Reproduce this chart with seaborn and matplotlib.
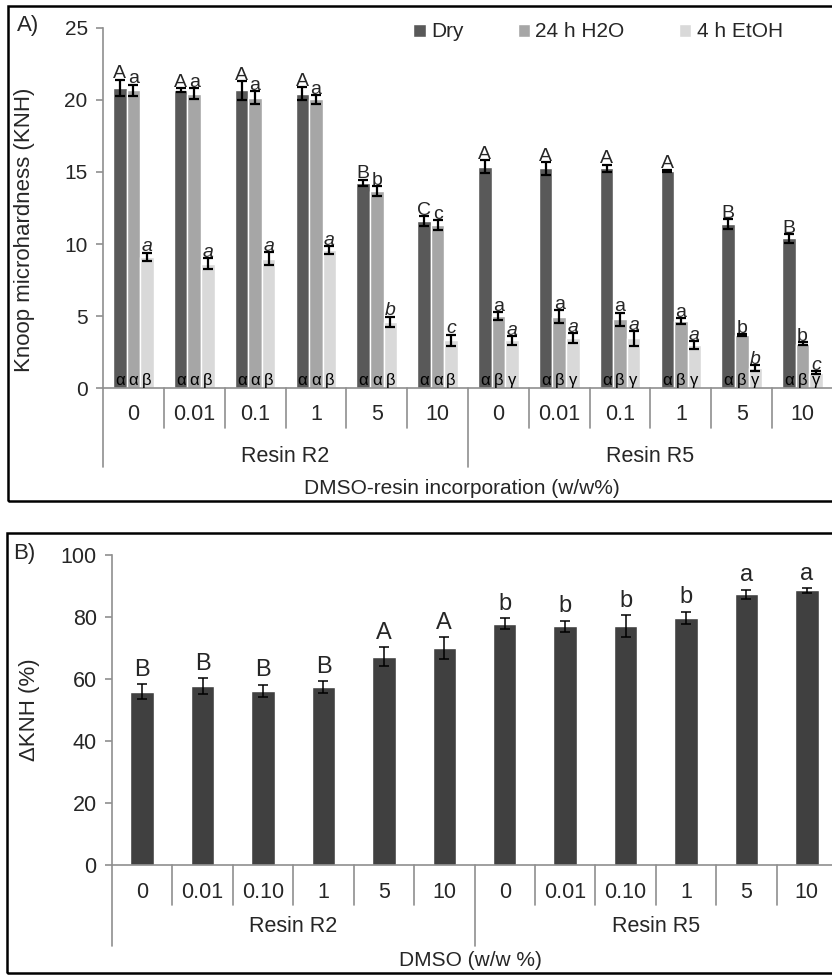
import matplotlib
matplotlib.use("Agg")
import matplotlib.pyplot as plt
from matplotlib.patches import Rectangle
import numpy as np
import pandas as pd
import seaborn as sns

# ---- data -------------------------------------------------------------
resins = ["Resin R2", "Resin R5"]
dmso_a = ["0", "0.01", "0.1", "1", "5", "10"]
dmso_b = ["0", "0.01", "0.10", "1", "5", "10"]
conditions = ["Dry", "24 h H2O", "4 h EtOH"]

dry_mean = [20.85, 20.69, 20.67, 20.44, 14.26, 11.60, 15.37, 15.25, 15.25, 15.07, 11.37, 10.39]
dry_err = [0.55, 0.15, 0.65, 0.45, 0.20, 0.35, 0.45, 0.45, 0.25, 0.10, 0.35, 0.30]
h2o_mean = [20.67, 20.44, 20.16, 20.05, 13.68, 11.30, 5.00, 4.95, 4.77, 4.65, 3.68, 3.08]
h2o_err = [0.40, 0.40, 0.45, 0.30, 0.35, 0.35, 0.25, 0.45, 0.45, 0.20, 0.05, 0.10]
etoh_mean = [9.10, 8.63, 8.98, 9.58, 4.60, 3.31, 3.31, 3.45, 3.45, 2.99, 1.39, 1.06]
etoh_err = [0.30, 0.40, 0.45, 0.25, 0.35, 0.40, 0.30, 0.35, 0.50, 0.25, 0.20, 0.10]

dry_letters = ["A", "A", "A", "A", "B", "C", "A", "A", "A", "A", "B", "B"]
h2o_letters = ["a", "a", "a", "a", "b", "c", "a", "a", "a", "a", "b", "b"]
etoh_letters = ["a", "a", "a", "a", "b", "c", "a", "a", "a", "a", "b", "c"]
greek_r2 = ["α", "α", "β"]
greek_r5 = ["α", "β", "γ"]

dknh_mean = [55.9, 57.8, 56.2, 57.4, 67.2, 70.0, 77.9, 77.0, 77.0, 79.7, 87.3, 88.6]
dknh_err = [2.5, 2.5, 2.0, 2.0, 3.0, 3.5, 1.8, 1.8, 3.5, 2.0, 1.5, 0.8]
dknh_letters = ["B", "B", "B", "B", "A", "A", "b", "b", "b", "b", "a", "a"]

# ---- styling ----------------------------------------------------------
sns.set_theme(style="white")
plt.rcParams["font.family"] = ["Liberation Sans", "DejaVu Sans"]
narrow = ["Liberation Sans Narrow", "Liberation Sans", "DejaVu Sans"]
axis_grey = "#8f8f8f"
colors_a = ["#595959", "#a6a6a6", "#d9d9d9"]
color_b = "#404040"

W, H = 832, 976
fig = plt.figure(figsize=(W / 100, H / 100), dpi=100)


def fx(px):
    return px / W


def fy(py):
    return 1 - py / H


def style_axes(ax, ylim, yticks, tick_fs):
    ax.set_ylim(*ylim)
    ax.set_yticks(yticks)
    ax.set_xlim(-0.5, 11.5)
    for s in ["top", "right"]:
        ax.spines[s].set_visible(False)
    for s in ["left", "bottom"]:
        ax.spines[s].set_color(axis_grey)
        ax.spines[s].set_linewidth(1.2)
    ax.tick_params(axis="y", direction="out", length=5, width=1.2, color=axis_grey,
                   labelsize=tick_fs, pad=6, left=True)
    ax.tick_params(axis="x", bottom=False, length=0)
    ax.set_xlabel("")


def group_axis(ax, labels, ax_h_px, tick_px, short_px, resin_px, long_px, fs):
    """Two-level category axis: concentration labels with separators, then resin."""
    trans = ax.get_xaxis_transform()
    ax.set_xticks(range(12))
    ax.set_xticklabels([])
    for i, lab in enumerate(labels * 2):
        ax.text(i, -tick_px / ax_h_px, lab, transform=trans, ha="center", va="center",
                fontsize=fs, family=narrow, clip_on=False)
    for b in range(1, 12):
        depth = long_px if b == 6 else short_px
        ax.plot([b - 0.5, b - 0.5], [0, -depth / ax_h_px], transform=trans,
                color=axis_grey, lw=1.2, clip_on=False)
    ax.plot([-0.5, -0.5], [0, -long_px / ax_h_px], transform=trans,
            color=axis_grey, lw=1.2, clip_on=False)
    for k, name in enumerate(resins):
        ax.text(2.5 + 6 * k, -resin_px / ax_h_px, name, transform=trans, ha="center",
                va="center", fontsize=fs, family=narrow, clip_on=False)


slots = [f"{r}|{d}" for r in resins for d in dmso_a]

# ---- panel A ----------------------------------------------------------
axA_top, axA_bot = 28, 388
axA = fig.add_axes([fx(103), fy(axA_bot), fx(730), (axA_bot - axA_top) / H])
df_a = pd.DataFrame({
    "slot": slots * 3,
    "condition": np.repeat(conditions, 12),
    "value": dry_mean + h2o_mean + etoh_mean,
})
sns.barplot(data=df_a, x="slot", y="value", hue="condition", order=slots,
            hue_order=conditions, palette=colors_a, saturation=1, width=0.666,
            errorbar=None, ax=axA)
style_axes(axA, (0, 25), [0, 5, 10, 15, 20, 25], 15)
axA.set_ylabel("Knoop microhardness (KNH)", fontsize=16)
axA.yaxis.set_label_coords((35 - 103) / 730, 0.44)

means = [dry_mean, h2o_mean, etoh_mean]
errs = [dry_err, h2o_err, etoh_err]
letters = [dry_letters, h2o_letters, etoh_letters]
bar_groups = list(axA.containers)
for h, cont in enumerate(bar_groups):
    xs = [p.get_x() + p.get_width() / 2 for p in cont.patches]
    axA.errorbar(xs, means[h], yerr=errs[h], fmt="none", ecolor="black",
                 elinewidth=1.6, capsize=3.5, capthick=1.6, zorder=4)
    for i, x in enumerate(xs):
        top = means[h][i] + errs[h][i]
        axA.annotate(letters[h][i], (x, top), xytext=(0, 1), textcoords="offset points",
                     ha="center", va="baseline", fontsize=14,
                     style="italic" if h == 2 else "normal", zorder=5)
        greek = greek_r2 if i < 6 else greek_r5
        axA.annotate(greek[h], (x, 0), xytext=(0, 2), textcoords="offset points",
                     ha="center", va="baseline", fontsize=12, color="black", zorder=5)

sns.move_legend(axA, loc="center", bbox_to_anchor=((598 - 103) / 730, (388 - 32) / 360),
                ncol=3, frameon=False, title=None, fontsize=15, handlelength=0.6,
                handleheight=0.6, handletextpad=0.25, columnspacing=2.6)

group_axis(axA, dmso_a, 360, 27, 40, 69, 79, 15.5)
fig.text(fx(462), fy(489), "DMSO-resin incorporation (w/w%)", ha="center", va="center",
         fontsize=15)
fig.text(fx(17), fy(25), "A)", ha="left", va="center", fontsize=16)

# ---- panel B ----------------------------------------------------------
axB_top, axB_bot = 555, 865
axB = fig.add_axes([fx(112), fy(axB_bot), fx(725), (axB_bot - axB_top) / H])
df_b = pd.DataFrame({"slot": slots, "dknh": dknh_mean})
sns.barplot(data=df_b, x="slot", y="dknh", order=slots, color=color_b, saturation=1,
            width=0.39, errorbar=None, ax=axB)
style_axes(axB, (0, 100), [0, 20, 40, 60, 80, 100], 15.5)
axB.set_ylabel("ΔKNH (%)", fontsize=16)
axB.yaxis.set_label_coords((40 - 112) / 725, 0.5)

xs_b = [p.get_x() + p.get_width() / 2 for p in list(axB.containers)[0].patches]
axB.errorbar(xs_b, dknh_mean, yerr=dknh_err, fmt="none", ecolor="black",
             elinewidth=1.1, capsize=3.5, capthick=1.1, zorder=4)
for x, m, e, lab in zip(xs_b, dknh_mean, dknh_err, dknh_letters):
    axB.annotate(lab, (x, m + e), xytext=(0, 6), textcoords="offset points",
                 ha="center", va="baseline", fontsize=17, zorder=5)

group_axis(axB, dmso_b, 310, 28, 40, 62, 81, 15.5)
fig.text(fx(470), fy(960), "DMSO (w/w %)", ha="center", va="center", fontsize=15,
         family=narrow)
fig.text(fx(13), fy(553), "B)", ha="left", va="center", fontsize=16)

# ---- panel frames -----------------------------------------------------
for (x0, y0, x1, y1) in [(8, 6, 840, 501), (7, 533, 840, 973)]:
    fig.add_artist(Rectangle((fx(x0), fy(y1)), fx(x1 - x0), (y1 - y0) / H,
                             transform=fig.transFigure, fill=False, edgecolor="black",
                             linewidth=1.8, zorder=10))

fig.savefig("out.png", dpi=100)
